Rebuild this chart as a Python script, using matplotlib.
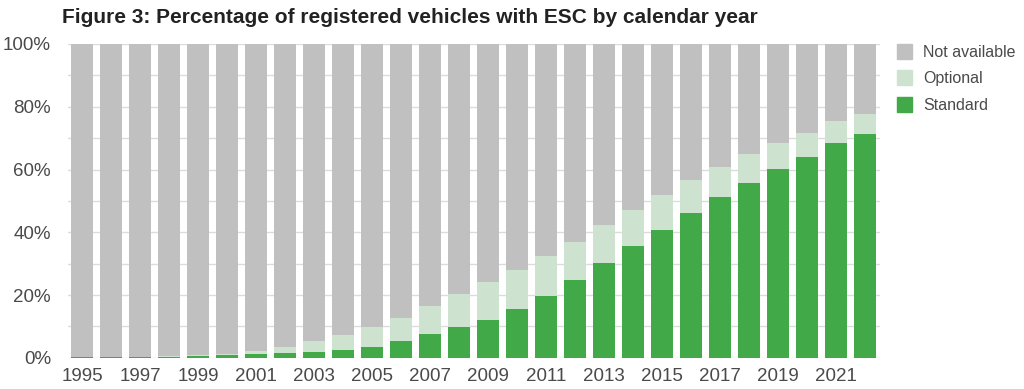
import numpy as np
import matplotlib.pyplot as plt
from matplotlib.patches import Patch

# Data (percent of registered vehicles)
years = list(range(1995, 2023))
standard = [0.2, 0.2, 0.2, 0.3, 0.6, 0.9, 1.2, 1.4, 2.0, 2.6, 3.6, 5.3, 7.5, 9.7,
            12.2, 15.5, 19.8, 24.8, 30.3, 35.7, 40.7, 46.1, 51.1, 55.8, 60.3, 64.0,
            68.4, 71.4]
optional_top = [0.3, 0.3, 0.3, 0.5, 0.8, 1.3, 2.2, 3.5, 5.5, 7.4, 9.9, 12.8, 16.4, 20.5,
                24.3, 28.1, 32.3, 37.0, 42.3, 47.1, 51.9, 56.7, 60.8, 65.0, 68.6, 71.7,
                75.3, 77.8]
optional = [t - s for t, s in zip(optional_top, standard)]
not_available = [100 - t for t in optional_top]

c_std = "#41a947"
c_opt = "#cde3d0"
c_na = "#c0c0c0"
txt = "#4a4a4a"

plt.rcParams['font.family'] = ['Liberation Sans', 'DejaVu Sans']

fig = plt.figure(figsize=(10.24, 3.89), dpi=100)
ax = fig.add_axes([0.066, 0.080, 0.793, 0.807])

x = np.arange(len(years))
w = 0.74
ax.bar(x, standard, w, color=c_std, zorder=2)
ax.bar(x, optional, w, bottom=standard, color=c_opt, zorder=2)
ax.bar(x, not_available, w, bottom=optional_top, color=c_na, zorder=2)

ax.set_xlim(-0.5, len(years) - 0.5)
ax.set_ylim(0, 100)
ax.set_yticks(np.arange(0, 101, 20))
ax.set_yticklabels([f"{v}%" for v in range(0, 101, 20)])
ax.set_yticks(np.arange(0, 101, 10), minor=True)
ax.grid(axis='y', which='both', color="#dcdcdc", linewidth=1, zorder=0)
ax.set_xticks(x[::2])
ax.set_xticklabels([str(y) for y in years[::2]])
for s in ax.spines.values():
    s.set_visible(False)
ax.tick_params(axis='both', which='both', length=0, labelsize=13.5, colors=txt)
ax.tick_params(axis='y', pad=12)
ax.tick_params(axis='x', pad=7)

fig.text(0.061, 0.955, "Figure 3: Percentage of registered vehicles with ESC by calendar year",
         fontsize=15, fontweight='bold', color="#222222", va='center')

handles = [Patch(color=c_na, label="Not available"),
           Patch(color=c_opt, label="Optional"),
           Patch(color=c_std, label="Standard")]
fig.legend(handles=handles, loc='upper left', bbox_to_anchor=(0.862, 0.925),
           frameon=False, fontsize=11.5, handlelength=0.95, handleheight=1.1,
           handletextpad=0.7, labelspacing=0.65, labelcolor=txt)

fig.savefig("out.png", dpi=100)
